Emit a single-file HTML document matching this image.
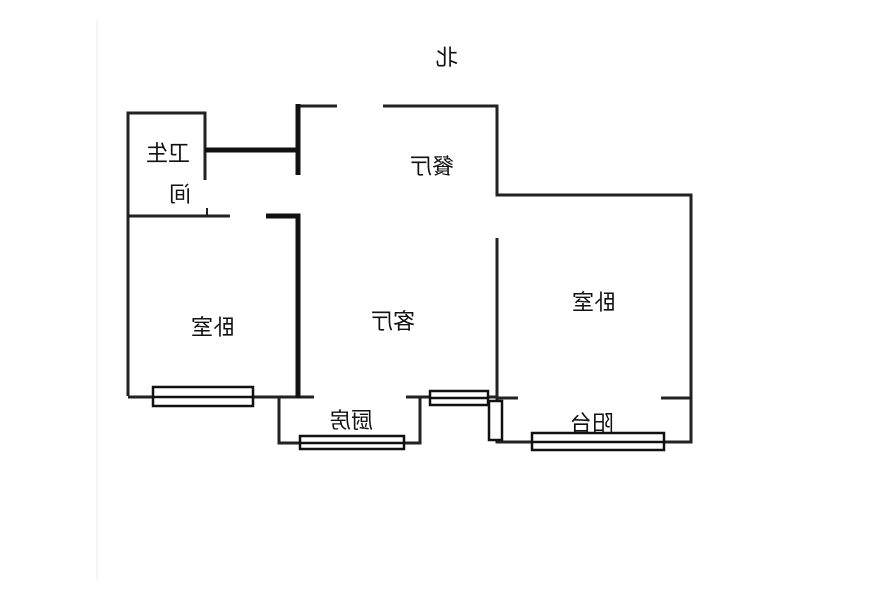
<!DOCTYPE html>
<html><head><meta charset="utf-8"><style>
html,body{margin:0;padding:0;background:#fff;width:878px;height:600px;overflow:hidden}
svg text{font-family:"Liberation Sans","Noto Sans CJK SC",sans-serif;fill:#111;font-size:22px}
</style></head><body>
<svg width="878" height="600" viewBox="0 0 878 600">
<g stroke="#222" fill="none" stroke-width="3">
<!-- bathroom -->
<polyline points="128,396 128,113 205,113 205,180"/>
<line x1="207" y1="208" x2="207" y2="216" stroke-width="2"/>
<line x1="128" y1="216" x2="230" y2="216"/>
<!-- top -->
<polyline points="298,106 337,106"/>
<polyline points="383,106 497,106 497,195 691,195 691,442 497,442 497,238"/>
<line x1="497" y1="398" x2="518" y2="398"/>
<line x1="661" y1="398" x2="691" y2="398"/>
<!-- bottom -->
<line x1="128" y1="397" x2="314" y2="397"/>
<polyline points="279,397 279,443 420,443 420,397"/>
<line x1="406" y1="397" x2="497" y2="397"/>
</g>
<g stroke="#111" fill="none" stroke-width="5">
<line x1="205" y1="150" x2="300" y2="150"/>
<line x1="298" y1="104" x2="298" y2="175"/>
<polyline points="266,216 298,216 298,398"/>
</g>
<g stroke="#111" fill="#fff" stroke-width="2.5">
<rect x="153" y="387" width="100" height="19"/><line x1="153" y1="397" x2="253" y2="397"/>
<rect x="300" y="436" width="104" height="13"/><line x1="300" y1="443" x2="404" y2="443"/>
<rect x="430" y="391" width="58" height="14"/><line x1="430" y1="398" x2="488" y2="398"/>
<rect x="489" y="401" width="13" height="39"/>
<rect x="532" y="433" width="132" height="17"/><line x1="532" y1="442" x2="664" y2="442"/>
</g>
<line x1="97" y1="20" x2="97" y2="580" stroke="#eee" stroke-width="1"/>
<g text-anchor="middle">
<text transform="translate(447,65) scale(-1,1)">北</text>
<text transform="translate(168,161) scale(-1,1)">卫生</text>
<text transform="translate(180,202) scale(-1,1)">间</text>
<text transform="translate(432,174) scale(-1,1)">餐厅</text>
<text transform="translate(594,310) scale(-1,1)">卧室</text>
<text transform="translate(213,335) scale(-1,1)">卧室</text>
<text transform="translate(393,329) scale(-1,1)">客厅</text>
<text transform="translate(351,428) scale(-1,1)">厨房</text>
<text transform="translate(592,431) scale(-1,1)">阳台</text>
</g>
</svg>
</body></html>
